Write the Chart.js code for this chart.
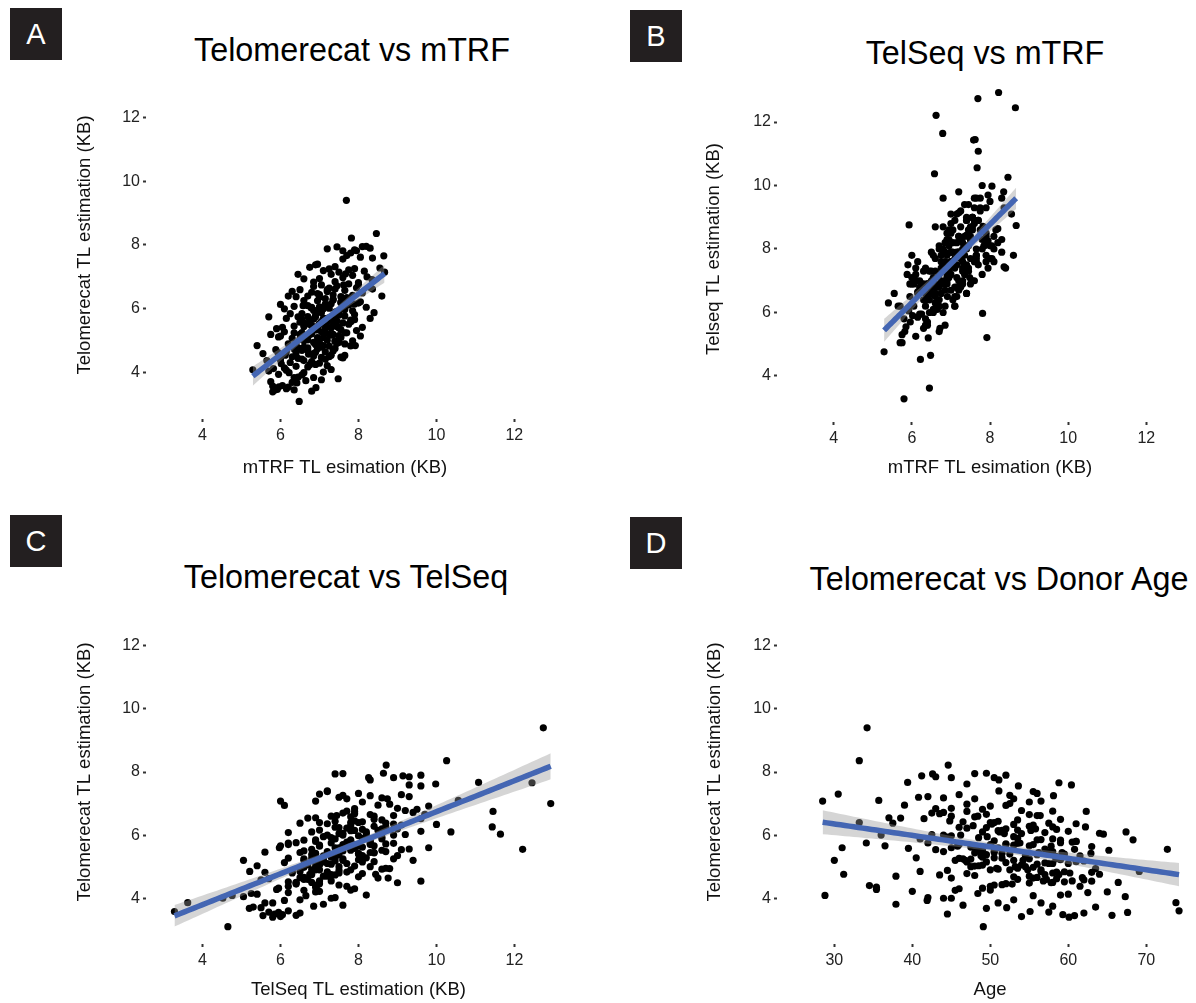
<!DOCTYPE html>
<html>
<head>
<meta charset="utf-8">
<script src="https://cdn.jsdelivr.net/npm/chart.js@4.4.1/dist/chart.umd.min.js"></script>
<style>
  html, body { margin: 0; padding: 0; background: #fff; overflow: hidden; width: 1196px; height: 1003px; }
  canvas.panel { position: absolute; left: 0; top: 0; }
  .tag { position: absolute; width: 52px; height: 52px; background: #231f20; color: #fff;
         font: 29px "Liberation Sans", Arial, sans-serif; display: flex; align-items: center; justify-content: center; }
  .title { position: absolute; font: 32.3px "Liberation Sans", Arial, sans-serif; line-height: 1; color: #000;
           transform: translate(-50%, -50%); white-space: nowrap; }
</style>
</head>
<body>
<div class="tag" style="left:10px;top:8px">A</div>
<div class="tag" style="left:630px;top:10px">B</div>
<div class="tag" style="left:10px;top:515px">C</div>
<div class="tag" style="left:630px;top:517px">D</div>
<div class="title" style="left:352px;top:50px">Telomerecat vs mTRF</div>
<div class="title" style="left:985px;top:53px">TelSeq vs mTRF</div>
<div class="title" style="left:346px;top:577px">Telomerecat vs TelSeq</div>
<div class="title" style="left:999px;top:579px">Telomerecat vs Donor Age</div>
<canvas class="panel" id="chartA" width="1210" height="1003"></canvas>
<canvas class="panel" id="chartB" width="1210" height="1003"></canvas>
<canvas class="panel" id="chartC" width="1210" height="1003"></canvas>
<canvas class="panel" id="chartD" width="1210" height="1003"></canvas>
<script>
// one entry per sample, same order in every array
const mtrf = [
  6.48, 5.85, 5.92, 6.35, 5.80, 5.80, 6.45, 6.42, 5.96, 6.20,
  6.91, 7.48, 6.30, 6.05, 6.65, 5.75, 6.80, 7.05, 6.15, 5.29,
  6.22, 6.55, 6.10, 7.10, 6.75, 5.70, 6.40, 6.85, 7.30, 6.02,
  6.60, 5.95, 7.55, 6.70, 6.35, 7.20, 6.15, 6.90, 5.82, 5.93,
  7.92, 7.65, 7.40, 6.00, 6.30, 6.55, 6.80, 5.55, 6.95, 6.12,
  7.15, 6.40, 6.70, 7.05, 5.88, 6.60, 7.35, 6.25, 6.85, 6.48,
  7.60, 6.15, 7.00, 6.72, 5.65, 6.35, 7.25, 6.90, 6.55, 5.40,
  5.75, 6.00, 6.20, 6.35, 6.50, 6.60, 6.75, 6.85, 6.95, 7.05,
  7.10, 7.20, 7.30, 7.45, 7.55, 7.70, 7.85, 8.05, 6.10, 6.40,
  6.65, 6.80, 6.90, 7.00, 7.15, 7.25, 7.40, 7.50, 7.65, 6.30,
  6.55, 7.00, 7.35, 6.70, 7.80, 5.95, 7.10, 6.62, 7.81, 5.70,
  6.05, 6.25, 6.45, 6.60, 6.75, 6.85, 6.95, 7.05, 7.15, 7.25,
  7.35, 7.45, 7.55, 7.65, 7.75, 7.90, 8.10, 8.30, 6.35, 6.50,
  6.70, 6.90, 7.00, 7.10, 7.20, 7.30, 7.50, 7.60, 6.15, 6.80,
  7.40, 5.90, 7.95, 6.55, 7.20, 6.79, 7.58, 6.58, 6.20, 6.40,
  6.10, 6.55, 6.70, 6.85, 6.95, 7.05, 7.15, 7.25, 7.35, 7.45,
  7.55, 7.65, 7.75, 7.90, 8.05, 8.20, 8.40, 6.35, 6.60, 6.90,
  7.10, 7.30, 7.50, 7.70, 7.85, 6.00, 7.00, 7.40, 8.00, 7.62,
  8.36, 8.22, 6.30, 6.50, 6.70, 6.85, 6.95, 7.05, 7.15, 7.25,
  7.35, 7.45, 7.55, 7.65, 7.75, 7.85, 7.95, 8.10, 8.30, 8.60,
  6.60, 7.00, 7.20, 7.40, 7.80, 6.80, 8.00, 7.67, 8.67, 6.45,
  6.75, 6.95, 7.10, 7.25, 7.40, 7.50, 7.60, 7.75, 7.85, 8.00,
  8.15, 8.35, 8.55, 7.00, 7.30, 7.90, 6.85, 8.65, 7.70, 8.36,
  7.20, 7.45, 7.60, 7.80, 8.05, 7.95, 7.40, 8.20, 6.90, 8.46,
  7.82, 7.90, 8.10, 7.60, 8.30, 7.69,
  6.60, 6.80, 7.00, 7.20, 7.40, 6.70, 6.90, 7.10, 7.30, 7.50,
  6.50, 6.75, 6.95, 7.15, 7.35, 7.55, 6.85, 7.05, 7.25, 7.45,
  6.45, 6.65, 7.60, 7.70, 7.80, 6.55, 6.95, 7.15, 7.40, 6.80,
  7.90, 7.00, 6.60, 7.30, 7.50, 6.40, 7.20, 7.65, 6.90, 7.10
];
const telomerecat = [
  3.10, 3.45, 3.48, 3.46, 3.40, 3.58, 3.86, 3.68, 3.56, 3.55,
  3.53, 3.81, 3.70, 3.60, 3.75, 3.72, 3.42, 3.78, 3.50, 4.09,
  4.00, 3.93, 4.15, 4.02, 4.25, 4.05, 4.20, 3.85, 4.10, 4.28,
  4.00, 3.95, 4.49, 4.18, 3.85, 4.22, 4.08, 4.26, 4.13, 4.64,
  4.85, 4.54, 4.76, 4.40, 4.50, 4.70, 4.35, 4.60, 4.75, 4.55,
  4.42, 4.62, 4.78, 4.48, 4.72, 4.38, 4.68, 4.32, 4.52, 4.76,
  4.46, 4.66, 4.30, 4.58, 4.38, 4.74, 4.50, 4.64, 4.43, 4.85,
  5.20, 5.15, 4.90, 5.25, 5.05, 4.80, 5.20, 4.95, 5.10, 5.28,
  4.85, 5.02, 5.18, 4.92, 5.10, 5.25, 5.00, 5.15, 5.28, 4.82,
  5.13, 5.22, 4.88, 5.06, 5.24, 4.83, 4.98, 5.16, 4.90, 5.08,
  5.26, 4.94, 5.20, 5.03, 4.84, 5.12, 5.27, 5.55, 5.60, 5.75,
  5.42, 5.85, 5.75, 5.50, 5.52, 5.68, 5.45, 5.60, 5.38, 5.72,
  5.48, 5.62, 5.35, 5.78, 5.52, 5.66, 5.42, 5.70, 5.46, 5.58,
  5.76, 5.34, 5.54, 5.70, 5.44, 5.64, 5.40, 5.56, 5.70, 5.48,
  5.74, 5.38, 5.32, 5.66, 5.60, 6.03, 6.26, 6.10, 6.40, 6.38,
  6.00, 5.85, 6.10, 5.95, 6.25, 5.88, 6.15, 6.02, 6.28, 5.92,
  6.20, 5.98, 6.12, 5.82, 6.22, 6.05, 5.88, 6.08, 6.26, 5.80,
  6.00, 6.16, 5.86, 6.24, 5.94, 6.14, 6.06, 5.84, 6.18, 6.75,
  6.62, 7.00, 6.55, 6.60, 6.40, 6.70, 6.48, 6.75, 6.32, 6.65,
  6.44, 6.72, 6.38, 6.58, 6.78, 6.42, 6.66, 6.50, 6.68, 6.40,
  6.94, 6.36, 6.54, 6.62, 6.34, 6.52, 6.76, 7.10, 7.15, 7.08,
  7.30, 7.40, 7.20, 7.25, 6.85, 7.15, 6.98, 7.22, 7.05, 6.82,
  7.18, 6.92, 7.28, 6.95, 7.08, 7.26, 6.84, 7.66, 7.67, 7.59,
  7.88, 7.94, 7.56, 7.75, 7.62, 7.82, 7.32, 7.96, 7.38, 8.36,
  8.22, 7.85, 7.95, 7.82, 7.90, 9.40,
  5.00, 5.30, 5.50, 5.70, 5.90, 4.70, 4.90, 5.10, 5.40, 5.80,
  5.20, 5.60, 5.95, 6.10, 6.30, 6.20, 4.60, 4.80, 5.20, 5.45,
  4.45, 4.75, 6.00, 6.35, 5.65, 5.65, 5.35, 4.65, 5.00, 6.05,
  6.15, 6.45, 5.45, 4.55, 4.95, 4.90, 6.60, 5.25, 5.75, 5.55
];
const telseq = [
  4.65, 5.55, 6.05, 6.40, 5.80, 3.28, 3.62, 5.20, 5.70, 5.95,
  6.50, 7.10, 5.50, 6.20, 6.85, 5.30, 6.00, 7.60, 5.85, 4.76,
  4.52, 6.10, 5.25, 7.40, 6.60, 5.05, 6.90, 5.60, 8.20, 5.90,
  7.30, 6.50, 9.00, 6.20, 5.80, 7.00, 6.65, 7.80, 5.40, 8.76,
  5.21, 9.60, 8.44, 6.90, 6.40, 7.10, 6.90, 6.60, 7.30, 7.00,
  7.50, 5.70, 8.10, 6.40, 7.20, 7.70, 8.00, 5.95, 6.20, 6.75,
  7.00, 6.60, 7.90, 5.50, 6.20, 7.40, 6.80, 8.50, 6.95, 6.30,
  5.05, 7.10, 6.80, 6.60, 7.00, 6.30, 7.60, 6.90, 7.20, 8.20,
  6.50, 7.90, 7.40, 8.60, 7.00, 8.90, 8.30, 8.10, 7.40, 5.60,
  6.10, 8.00, 7.50, 6.70, 7.10, 7.70, 6.60, 8.40, 7.80, 7.30,
  6.80, 8.80, 9.40, 5.40, 7.20, 6.90, 6.20, 12.21, 5.97, 6.20,
  6.90, 6.90, 7.30, 6.60, 7.80, 7.00, 8.30, 7.50, 6.80, 8.70,
  7.20, 8.10, 9.00, 7.70, 8.60, 8.40, 8.00, 8.30, 5.60, 7.90,
  6.40, 7.10, 9.10, 6.20, 8.40, 7.60, 6.90, 9.30, 7.60, 8.70,
  8.90, 7.50, 7.40, 6.00, 9.80, 11.64, 11.43, 10.37, 7.00, 6.50,
  7.20, 7.80, 6.80, 8.20, 7.40, 8.60, 7.90, 9.20, 8.40, 7.30,
  9.00, 8.00, 9.60, 7.80, 7.70, 8.20, 7.40, 6.20, 8.70, 6.90,
  8.90, 7.00, 8.30, 7.50, 8.60, 7.80, 7.60, 6.60, 8.10, 11.45,
  7.44, 12.93, 6.90, 7.30, 8.00, 7.60, 8.60, 7.90, 9.10, 8.30,
  7.40, 9.40, 8.70, 7.80, 9.20, 8.10, 9.70, 8.40, 7.90, 7.80,
  6.10, 7.20, 6.70, 8.90, 10.00, 9.60, 7.70, 10.56, 8.74, 6.00,
  7.00, 7.20, 7.50, 8.30, 9.00, 7.70, 8.80, 9.30, 8.10, 9.50,
  8.60, 9.80, 9.10, 8.50, 6.90, 7.60, 7.90, 12.45, 11.08, 9.30,
  9.14, 7.40, 9.60, 8.30, 9.98, 8.26, 8.00, 8.64, 7.20, 10.26,
  8.71, 9.30, 7.60, 8.90, 9.60, 12.74,
  6.90, 7.30, 7.60, 7.90, 8.10, 7.20, 7.00, 7.70, 8.00, 8.30,
  6.60, 7.40, 7.10, 8.20, 7.80, 8.60, 6.70, 7.50, 6.90, 8.40,
  6.40, 6.80, 7.60, 8.90, 8.00, 7.00, 8.10, 6.50, 7.50, 7.50,
  8.50, 7.90, 6.50, 7.30, 8.70, 6.90, 8.40, 7.60, 8.30, 6.80
];
const age = [
  49.1, 60.8, 59.3, 65.6, 60.1, 55.1, 73.8, 49.5, 57.5, 67.6,
  62.0, 37.9, 52.1, 74.2, 58.0, 63.5, 54.0, 46.5, 44.5, 28.8,
  45.0, 41.9, 48.4, 42.0, 45.5, 67.3, 65.0, 56.5, 59.0, 35.4,
  44.0, 53.0, 57.8, 62.5, 51.0, 40.0, 55.5, 50.0, 60.0, 45.0,
  69.1, 63.0, 31.2, 34.5, 66.4, 37.9, 35.4, 53.5, 57.0, 60.5,
  50.5, 58.5, 47.0, 55.0, 48.0, 61.5, 53.0, 49.0, 59.5, 64.0,
  52.0, 56.0, 46.0, 62.0, 50.0, 43.5, 58.0, 55.5, 51.5, 41.0,
  30.0, 47.0, 52.5, 55.0, 49.0, 58.0, 45.5, 53.5, 60.0, 50.5,
  56.5, 48.0, 62.0, 51.0, 57.5, 46.5, 54.5, 49.5, 40.5, 63.0,
  52.0, 59.0, 44.5, 54.0, 47.5, 58.5, 55.5, 61.0, 50.0, 56.0,
  46.0, 63.5, 53.0, 48.5, 59.5, 57.0, 51.5, 72.7, 31.0, 34.1,
  62.9, 68.3, 42.0, 48.5, 65.2, 53.0, 50.5, 45.0, 56.0, 52.0,
  58.0, 47.5, 54.5, 60.5, 49.0, 55.0, 51.5, 46.0, 57.5, 39.5,
  59.0, 61.5, 43.0, 55.5, 48.0, 63.0, 52.5, 57.0, 50.0, 44.0,
  53.5, 49.5, 58.5, 36.5, 51.0, 64.5, 62.2, 67.4, 33.2, 37.5,
  44.0, 56.0, 49.0, 53.0, 46.0, 58.0, 51.5, 42.5, 55.0, 48.5,
  52.0, 45.0, 60.0, 50.5, 47.0, 54.0, 41.0, 57.0, 58.0, 61.0,
  36.0, 53.5, 56.5, 49.5, 44.5, 51.0, 64.0, 59.0, 58.5, 62.3,
  56.4, 52.5, 37.0, 45.0, 50.0, 42.5, 53.5, 47.0, 55.5, 55.0,
  51.0, 44.0, 57.5, 48.0, 54.0, 46.5, 49.5, 59.0, 43.5, 50.5,
  52.0, 61.0, 38.5, 56.0, 53.0, 41.5, 58.0, 35.7, 48.0, 28.5,
  30.5, 51.1, 40.8, 58.1, 45.0, 53.0, 47.0, 42.0, 55.0, 49.0,
  44.0, 50.0, 46.0, 39.0, 56.5, 52.5, 43.0, 58.8, 39.4, 60.4,
  41.2, 42.6, 53.6, 51.1, 47.0, 45.0, 56.0, 49.5, 55.5, 33.2,
  44.6, 43.0, 48.0, 50.5, 52.0, 34.2,
  47.5, 49.0, 50.5, 52.0, 53.5, 55.0, 56.5, 58.0, 59.5, 61.0,
  46.8, 48.2, 49.6, 51.2, 47.8, 55.8, 57.2, 60.2, 54.2, 56.2,
  52.8, 58.8, 46.2, 50.2, 57.8, 45.8, 48.8, 61.8, 53.2, 51.8,
  55.2, 44.8, 59.2, 56.8, 50.8, 54.8, 48.4, 58.4, 53.8, 60.8
];

const kbTicks = [4, 6, 8, 10, 12];
const ageTicks = [30, 40, 50, 60, 70];

Chart.defaults.font.family = '"Liberation Sans", Arial, Helvetica, sans-serif';

// lm fit + 95% band, like geom_smooth(method = "lm")
function lmFit(xs, ys) {
  const n = xs.length;
  const mx = xs.reduce((a, b) => a + b, 0) / n;
  const my = ys.reduce((a, b) => a + b, 0) / n;
  let sxx = 0, sxy = 0;
  for (let i = 0; i < n; i++) {
    sxx += (xs[i] - mx) ** 2;
    sxy += (xs[i] - mx) * (ys[i] - my);
  }
  const b = sxy / sxx, a = my - b * mx;
  let sse = 0;
  for (let i = 0; i < n; i++) sse += (ys[i] - a - b * xs[i]) ** 2;
  const s = Math.sqrt(sse / (n - 2));
  const lo = Math.min(...xs), hi = Math.max(...xs);
  const line = [], upper = [], lower = [];
  for (let k = 0; k <= 80; k++) {
    const x = lo + (hi - lo) * k / 80;
    const y = a + b * x;
    const se = s * Math.sqrt(1 / n + (x - mx) ** 2 / sxx);
    line.push({x: x, y: y});
    upper.push({x: x, y: y + 1.97 * se});
    lower.push({x: x, y: y - 1.97 * se});
  }
  return {line, upper, lower};
}

function makePanel(id, xs, ys, xTicks, xMin, xMax, xLabel, yLabel, area) {
  const fit = lmFit(xs, ys);
  const pts = xs.map((x, i) => ({x: x, y: ys[i]}));
  const titleSize = 18.5;
  const off = titleSize * 1.2 / 2 + 4;
  const yW = area.left - (area.yTitleX - off);
  const xH = (area.xTitleY + off) - area.bottom;
  const canvas = document.getElementById(id);

  new Chart(canvas.getContext('2d'), {
    type: 'scatter',
    data: {
      datasets: [
        {data: fit.line, showLine: true, borderColor: '#4466b3', borderWidth: 5.5, pointRadius: 0, order: 0},
        {data: fit.upper, showLine: true, borderColor: 'rgba(0,0,0,0)', pointRadius: 0, fill: false, order: 1},
        {data: fit.lower, showLine: true, borderColor: 'rgba(0,0,0,0)', pointRadius: 0, fill: '-1',
         backgroundColor: 'rgba(150,150,150,0.4)', order: 2},
        {data: pts, pointRadius: 3.6, backgroundColor: '#000', borderWidth: 0, order: 3}
      ]
    },
    options: {
      responsive: false,
      animation: false,
      events: [],
      layout: {padding: {left: area.left - yW, right: canvas.width - area.right, top: area.top,
                         bottom: canvas.height - area.bottom - xH}},
      plugins: {legend: {display: false}, tooltip: {enabled: false}},
      scales: {
        x: {
          type: 'linear', min: xMin, max: xMax,
          afterBuildTicks: s => { s.ticks = xTicks.map(v => ({value: v})); },
          afterFit: s => { s.height = xH; },
          border: {display: false},
          grid: {drawOnChartArea: false, drawTicks: true, tickLength: 3, tickWidth: 2, tickColor: '#333'},
          ticks: {padding: 4, color: '#222', font: {size: 16}, autoSkip: false, maxRotation: 0},
          title: {display: true, text: xLabel, color: '#111', font: {size: titleSize}, padding: {top: 4, bottom: 4}}
        },
        y: {
          type: 'linear', min: 2.55, max: 13.45,
          afterBuildTicks: s => { s.ticks = kbTicks.map(v => ({value: v})); },
          afterFit: s => { s.width = yW; },
          border: {display: false},
          grid: {drawOnChartArea: false, drawTicks: true, tickLength: 3, tickWidth: 2, tickColor: '#333'},
          ticks: {padding: 3, color: '#222', font: {size: 16}, autoSkip: false},
          title: {display: true, text: yLabel, color: '#111', font: {size: titleSize}, padding: {top: 4, bottom: 4}}
        }
      }
    }
  });
}

makePanel('chartA', mtrf, telomerecat, kbTicks, 2.55, 12.76,
  'mTRF TL esimation (KB)', 'Telomerecat TL estimation (KB)',
  {left: 146, right: 544, top: 71, bottom: 419, yTitleX: 85, xTitleY: 468});
makePanel('chartB', mtrf, telseq, kbTicks, 2.55, 13.45,
  'mTRF TL esimation (KB)', 'Telseq TL estimation (KB)',
  {left: 777, right: 1203, top: 76, bottom: 422, yTitleX: 714, xTitleY: 468});
makePanel('chartC', telseq, telomerecat, kbTicks, 2.55, 13.45,
  'TelSeq TL estimation (KB)', 'Telomerecat TL estimation (KB)',
  {left: 146, right: 571, top: 600, bottom: 944, yTitleX: 85, xTitleY: 990});
makePanel('chartD', age, telomerecat, ageTicks, 22.65, 77.27,
  'Age', 'Telomerecat TL estimation (KB)',
  {left: 777, right: 1203, top: 600, bottom: 944, yTitleX: 715, xTitleY: 990});
</script>
</body>
</html>
